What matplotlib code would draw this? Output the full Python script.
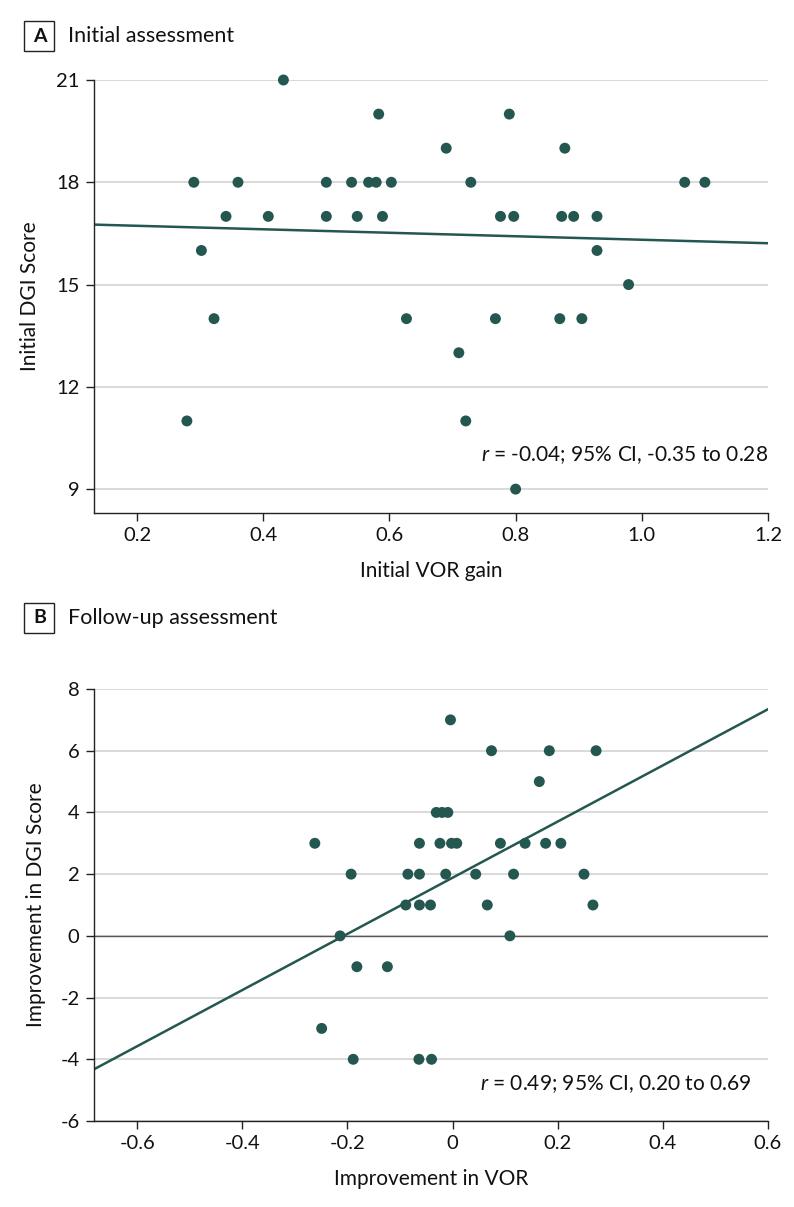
import numpy as np
import matplotlib
matplotlib.use("Agg")
import matplotlib.pyplot as plt
from matplotlib.patches import Rectangle

# ---------------- data ----------------
# Panel A: initial VOR gain vs initial DGI score
vor_gain_a = [0.432,
              0.583, 0.790,
              0.690, 0.878,
              0.290, 0.360, 0.500, 0.540, 0.567, 0.579, 0.603, 0.729, 1.068, 1.100,
              0.341, 0.408, 0.500, 0.549, 0.589, 0.776, 0.797, 0.873, 0.892, 0.929,
              0.302, 0.929,
              0.979,
              0.322, 0.627, 0.768, 0.870, 0.905,
              0.710,
              0.279, 0.721,
              0.800]
dgi_a = [21,
         20, 20,
         19, 19,
         18, 18, 18, 18, 18, 18, 18, 18, 18, 18,
         17, 17, 17, 17, 17, 17, 17, 17, 17, 17,
         16, 16,
         15,
         14, 14, 14, 14, 14,
         13,
         11, 11,
         9]

# Panel B: improvement in VOR vs improvement in DGI score
vor_impr_b = [-0.004,
              0.074, 0.184, 0.273,
              0.165,
              -0.031, -0.020, -0.009,
              -0.262, -0.063, -0.024, -0.002, 0.008, 0.091, 0.138, 0.177, 0.206,
              -0.193, -0.085, -0.063, -0.013, 0.044, 0.116, 0.250,
              -0.089, -0.063, -0.042, 0.066, 0.267,
              -0.214, 0.109,
              -0.182, -0.124,
              -0.249,
              -0.189, -0.064, -0.040]
dgi_impr_b = [7,
              6, 6, 6,
              5,
              4, 4, 4,
              3, 3, 3, 3, 3, 3, 3, 3, 3,
              2, 2, 2, 2, 2, 2, 2,
              1, 1, 1, 1, 1,
              0, 0,
              -1, -1,
              -3,
              -4, -4, -4]

xticks_a = [0.2, 0.4, 0.6, 0.8, 1.0, 1.2]
xticklabels_a = ["0.2", "0.4", "0.6", "0.8", "1.0", "1.2"]
yticks_a = [9, 12, 15, 18, 21]
yticklabels_a = ["9", "12", "15", "18", "21"]
xticks_b = [-0.6, -0.4, -0.2, 0, 0.2, 0.4, 0.6]
xticklabels_b = ["-0.6", "-0.4", "-0.2", "0", "0.2", "0.4", "0.6"]
yticks_b = [-6, -4, -2, 0, 2, 4, 6, 8]
yticklabels_b = ["-6", "-4", "-2", "0", "2", "4", "6", "8"]

annot_a = "$r$ = -0.04; 95% CI, -0.35 to 0.28"
annot_b = "$r$ = 0.49; 95% CI, 0.20 to 0.69"

# ---------------- style ----------------
FONT = ['Lato', 'DejaVu Sans']
plt.rcParams['font.family'] = FONT
plt.rcParams['axes.unicode_minus'] = False
plt.rcParams['mathtext.fontset'] = 'custom'
plt.rcParams['mathtext.it'] = 'Lato:italic'
plt.rcParams['mathtext.rm'] = 'Lato'

DOT = '#24574f'
GRID = '#d9d9d9'

W, H = 794, 1207
fig = plt.figure(figsize=(W / 100, H / 100), dpi=100)


def px_axes(left, top, right, bottom):
    return fig.add_axes([left / W, 1 - bottom / H, (right - left) / W, (bottom - top) / H])


def style_axes(ax, yticks, yticklabels, xticks, xticklabels, xlim, ylim):
    ax.set_xlim(*xlim)
    ax.set_ylim(*ylim)
    ax.set_xticks(xticks)
    ax.set_xticklabels(xticklabels)
    ax.set_yticks(yticks)
    ax.set_yticklabels(yticklabels)
    for s in ['top', 'right']:
        ax.spines[s].set_visible(False)
    for s in ['left', 'bottom']:
        ax.spines[s].set_color('#222222')
        ax.spines[s].set_linewidth(1.0)
    ax.tick_params(axis='both', direction='out', length=6, width=1.0,
                   color='#222222', labelsize=14.5, labelcolor='#111111', pad=4)
    ax.yaxis.grid(True, color=GRID, linewidth=1.4)
    ax.set_axisbelow(True)


def panel_title(letter, text, y_px):
    fig.patches.append(Rectangle((24 / W, 1 - (y_px + 15) / H), 30 / W, 30 / H,
                                 transform=fig.transFigure, fill=False,
                                 edgecolor='#222222', linewidth=1.0))
    fig.text(39.5 / W, 1 - y_px / H, letter, ha='center', va='center',
             fontsize=14, fontweight='bold', color='#111111')
    fig.text(68 / W, 1 - y_px / H, text, ha='left', va='center',
             fontsize=15.5, color='#111111')


# ---------------- panel A ----------------
axA = px_axes(93.5, 80, 768, 513)
style_axes(axA, yticks_a, yticklabels_a, xticks_a, xticklabels_a, (0.131, 1.2), (8.3, 21))
xa = np.array(vor_gain_a)
ya = np.array(dgi_a)
ka, ba = np.polyfit(xa, ya, 1)
lx = np.array(axA.get_xlim())
axA.plot(lx, ka * lx + ba, color=DOT, linewidth=1.8, zorder=2)
axA.scatter(xa, ya, s=62, color=DOT, edgecolors='none', zorder=3, clip_on=False)
axA.set_xlabel("Initial VOR gain", fontsize=15, labelpad=12, color='#111111')
axA.set_ylabel("Initial DGI Score", fontsize=15, labelpad=12, color='#111111')
axA.text(1.2, 10.0, annot_a, ha='right', va='center', fontsize=15, color='#111111')
panel_title("A", "Initial assessment", 36)

# ---------------- panel B ----------------
axB = px_axes(93.5, 689, 768, 1121)
style_axes(axB, yticks_b, yticklabels_b, xticks_b, xticklabels_b, (-0.683, 0.6), (-6, 8))
axB.axhline(0, color='#555555', linewidth=1.0, zorder=1.5)
xb = np.array(vor_impr_b)
yb = np.array(dgi_impr_b)
kb, bb = np.polyfit(xb, yb, 1)
lxb = np.array(axB.get_xlim())
axB.plot(lxb, kb * lxb + bb, color=DOT, linewidth=1.8, zorder=2)
axB.scatter(xb, yb, s=62, color=DOT, edgecolors='none', zorder=3, clip_on=False)
axB.set_xlabel("Improvement in VOR", fontsize=15, labelpad=12, color='#111111')
axB.set_ylabel("Improvement in DGI Score", fontsize=15, labelpad=10, color='#111111')
axB.text(0.568, -4.8, annot_b, ha='right', va='center', fontsize=15, color='#111111')
panel_title("B", "Follow-up assessment", 618)

fig.savefig("out.png", dpi=100)
